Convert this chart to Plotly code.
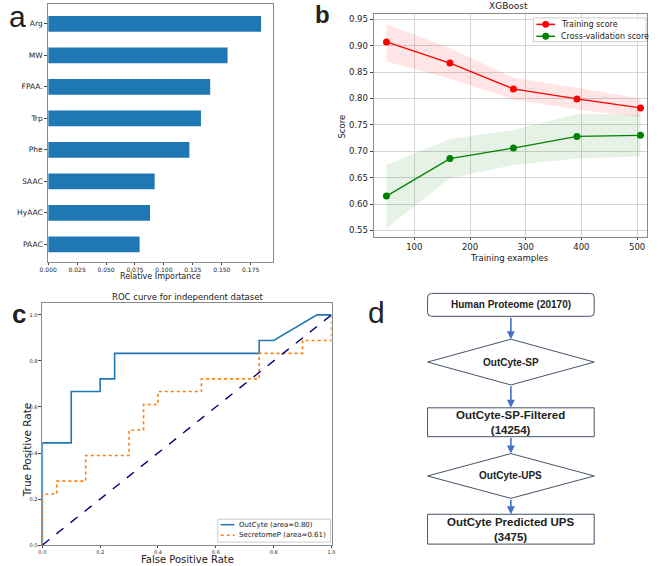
import plotly.graph_objects as go

W, H = 658, 566

# panel a: feature importance
features = ["Arg", "MW", "FPAA.", "Trp", "Phe", "SAAC", "HyAAC", "PAAC"]
importance = [0.184, 0.155, 0.140, 0.132, 0.122, 0.092, 0.088, 0.079]

# panel b: learning curve
train_sizes = [50, 164, 278, 392, 506]
train_mean = [0.907, 0.867, 0.818, 0.799, 0.782]
train_upper = [0.941, 0.895, 0.839, 0.820, 0.800]
train_lower = [0.870, 0.837, 0.798, 0.779, 0.765]
cv_mean = [0.615, 0.686, 0.706, 0.728, 0.730]
cv_upper = [0.674, 0.723, 0.740, 0.770, 0.770]
cv_lower = [0.554, 0.649, 0.674, 0.686, 0.690]

# panel c: ROC curves
outcyte_fpr = [0.0, 0.0, 0.1, 0.1, 0.2, 0.2, 0.25, 0.25, 0.75, 0.75, 0.8, 0.95, 1.0]
outcyte_tpr = [0.0, 0.444, 0.444, 0.667, 0.667, 0.722, 0.722, 0.833, 0.833, 0.889, 0.889, 1.0, 1.0]
secp_fpr = [0.0, 0.0, 0.05, 0.05, 0.15, 0.15, 0.3, 0.3, 0.35, 0.35, 0.4, 0.4, 0.55, 0.55,
            0.75, 0.75, 0.9, 0.9, 1.0, 1.0]
secp_tpr = [0.0, 0.222, 0.222, 0.278, 0.278, 0.389, 0.389, 0.5, 0.5, 0.611, 0.611, 0.667,
            0.667, 0.722, 0.722, 0.833, 0.833, 0.889, 0.889, 1.0]
roc_ticks = [0.0, 0.2, 0.4, 0.6, 0.8, 1.0]

# panel d: flowchart
flow_labels = ["Human Proteome (20170)", "OutCyte-SP", "OutCyte-SP-Filtered<br>(14254)",
               "OutCyte-UPS", "OutCyte Predicted UPS<br>(3475)"]
flow_kinds = ["round", "diamond", "box", "diamond", "box"]
flow_tops = [295, 341, 410, 456, 517]
flow_bottoms = [318, 387, 439, 501, 547]
flow_fonts = [10, 10, 11.5, 10, 11.5]

MPL = "DejaVu Sans"
frame = "#8a8a8a"


def px(x):
    return x / W


def py(y):
    return 1 - y / H


def label(x, y, text, size, family=MPL, angle=0, xanchor="center"):
    return dict(x=px(x), y=py(y), xref="paper", yref="paper", text=text, showarrow=False,
                xanchor=xanchor, yanchor="middle", textangle=angle,
                font=dict(family=family, size=size, color="#222"))


fig = go.Figure()

# ---- a
fig.add_trace(go.Bar(x=importance, y=features, orientation="h", width=0.5,
                     marker=dict(color="#1f77b4", line=dict(width=0)),
                     xaxis="x", yaxis="y", showlegend=False))

# ---- b
fig.add_trace(go.Scatter(x=train_sizes + train_sizes[::-1], y=train_upper + train_lower[::-1],
                         mode="none", fill="toself", fillcolor="rgba(255,0,0,0.1)",
                         xaxis="x2", yaxis="y2", showlegend=False, hoverinfo="skip"))
fig.add_trace(go.Scatter(x=train_sizes + train_sizes[::-1], y=cv_upper + cv_lower[::-1],
                         mode="none", fill="toself", fillcolor="rgba(0,128,0,0.1)",
                         xaxis="x2", yaxis="y2", showlegend=False, hoverinfo="skip"))
fig.add_trace(go.Scatter(x=train_sizes, y=train_mean, mode="lines+markers", name="Training score",
                         line=dict(color="#ff0000", width=1.3), marker=dict(size=7, color="#ff0000"),
                         xaxis="x2", yaxis="y2", showlegend=False))
fig.add_trace(go.Scatter(x=train_sizes, y=cv_mean, mode="lines+markers", name="Cross-validation score",
                         line=dict(color="#008000", width=1.3), marker=dict(size=7, color="#008000"),
                         xaxis="x2", yaxis="y2", showlegend=False))

# ---- c
fig.add_trace(go.Scatter(x=outcyte_fpr, y=outcyte_tpr, mode="lines", name="OutCyte (area=0.80)",
                         line=dict(color="#1f77b4", width=1.6),
                         xaxis="x3", yaxis="y3", showlegend=False))
fig.add_trace(go.Scatter(x=secp_fpr, y=secp_tpr, mode="lines", name="SecretomeP (area=0.61)",
                         line=dict(color="#ff7f0e", width=1.6, dash="dot"),
                         xaxis="x3", yaxis="y3", showlegend=False))
fig.add_trace(go.Scatter(x=[0, 1], y=[0, 1], mode="lines", line=dict(color="#000080", width=1.4, dash="dash"),
                         xaxis="x3", yaxis="y3", showlegend=False))

shapes = []
annos = []


# ---- hand-drawn legends (compact, matplotlib-like)
def legend_box(x0, y0, x1, y1):
    shapes.append(dict(type="rect", xref="paper", yref="paper", x0=px(x0), x1=px(x1),
                       y0=py(y1), y1=py(y0), line=dict(color="#cccccc", width=1),
                       fillcolor="rgba(255,255,255,0.9)", layer="above"))


def legend_key(x0, x1, y, color, dash="solid", marker=False):
    shapes.append(dict(type="line", xref="paper", yref="paper", x0=px(x0), x1=px(x1),
                       y0=py(y), y1=py(y), line=dict(color=color, width=1.5, dash=dash), layer="above"))
    if marker:
        m = (x0 + x1) / 2
        shapes.append(dict(type="circle", xref="paper", yref="paper", x0=px(m - 3.5), x1=px(m + 3.5),
                           y0=py(y + 3.5), y1=py(y - 3.5), line=dict(color=color, width=0),
                           fillcolor=color, layer="above"))


legend_box(535, 18, 650, 42)
legend_key(538, 557, 24.5, "#ff0000", marker=True)
legend_key(538, 557, 36.5, "#008000", marker=True)
annos.append(label(561, 24.5, "Training score", 8, xanchor="left"))
annos.append(label(561, 36.5, "Cross-validation score", 8, xanchor="left"))

legend_box(213, 522, 328, 545)
legend_key(216, 230, 527.5, "#1f77b4")
legend_key(216, 230, 538, "#ff7f0e", dash="dot")
annos.append(label(233, 527.5, "OutCyte (area=0.80)", 7, xanchor="left"))
annos.append(label(233, 538, "SecretomeP (area=0.61)", 7, xanchor="left"))

# ---- d (flowchart in paper coordinates)
cx_l, cx_r = 427, 597
cx = (cx_l + cx_r) / 2
for i, (lab, kind, t, b, fs) in enumerate(zip(flow_labels, flow_kinds, flow_tops, flow_bottoms, flow_fonts)):
    cy = (t + b) / 2
    L, R, C = px(cx_l), px(cx_r), px(cx)
    T, B, M = py(t), py(b), py(cy)
    if kind == "diamond":
        path = f"M {L},{M} L {C},{T} L {R},{M} L {C},{B} Z"
        shapes.append(dict(type="path", path=path, xref="paper", yref="paper",
                           line=dict(color="#44546A", width=1), fillcolor="white"))
    elif kind == "round":
        rx, ry = 4 / W, 4 / H
        path = (f"M {L + rx},{T} L {R - rx},{T} Q {R},{T} {R},{T - ry} "
                f"L {R},{B + ry} Q {R},{B} {R - rx},{B} L {L + rx},{B} "
                f"Q {L},{B} {L},{B + ry} L {L},{T - ry} Q {L},{T} {L + rx},{T} Z")
        shapes.append(dict(type="path", path=path, xref="paper", yref="paper",
                           line=dict(color="#44546A", width=1), fillcolor="white"))
    else:
        shapes.append(dict(type="rect", x0=L, x1=R, y0=B, y1=T, xref="paper", yref="paper",
                           line=dict(color="#44546A", width=1), fillcolor="white"))
    annos.append(label(cx, cy, f"<b>{lab}</b>", fs, family="Liberation Sans"))
    if i > 0:
        annos.append(dict(x=C, y=T, xref="paper", yref="paper", ax=0, ay=-(t - flow_bottoms[i - 1]),
                          text="", showarrow=True, arrowhead=2, arrowsize=1, arrowwidth=1.6,
                          arrowcolor="#4472C4"))

# titles, axis titles and panel letters
annos += [
    label(510, 6, "XGBoost", 9),
    label(182, 299, "ROC curve for independent dataset", 8.5),
    label(155, 277.5, "Relative Importance", 8),
    label(511, 259, "Training examples", 8.5),
    label(340, 127, "Score", 8.5, angle=-90),
    label(182, 562, "False Positive Rate", 10),
    label(18, 452, "True Positive Rate", 10.5, angle=-90),
    label(9, 17, "a", 30, family="Liberation Sans"),
    label(320, 15, "<b>b</b>", 24, family="Liberation Sans"),
    label(10, 316, "<b>c</b>", 26, family="Liberation Sans"),
    label(375, 314, "d", 30, family="Liberation Sans"),
]

axis_common = dict(showline=True, mirror=True, linecolor=frame, linewidth=1, ticks="outside",
                   ticklen=3, tickcolor="#444", zeroline=False)

fig.update_layout(
    width=W, height=H, margin=dict(l=0, r=0, t=0, b=0),
    paper_bgcolor="white", plot_bgcolor="white",
    font=dict(family=MPL, color="#222"),
    shapes=shapes, annotations=annos, showlegend=False,
    xaxis=dict(domain=[px(40), px(269)], range=[0, 0.194], anchor="y",
               tickvals=[0, 0.025, 0.05, 0.075, 0.1, 0.125, 0.15, 0.175],
               ticktext=["0.000", "0.025", "0.050", "0.075", "0.100", "0.125", "0.150", "0.175"],
               tickfont=dict(size=6), showgrid=False, **axis_common),
    yaxis=dict(domain=[py(263), py(4)], anchor="x", type="category", categoryarray=features,
               range=[7.55, -0.63], tickfont=dict(size=7.5), showgrid=False, **axis_common),
    xaxis2=dict(domain=[px(372), px(651)], range=[27, 518], anchor="y2",
                tickvals=[100, 200, 300, 400, 500], tickfont=dict(size=8.5),
                showgrid=True, gridcolor="#d5d5d5", **axis_common),
    yaxis2=dict(domain=[py(238), py(14)], range=[0.538, 0.96], anchor="x2",
                tickvals=[0.55, 0.6, 0.65, 0.7, 0.75, 0.8, 0.85, 0.9, 0.95],
                ticktext=["0.55", "0.60", "0.65", "0.70", "0.75", "0.80", "0.85", "0.90", "0.95"],
                tickfont=dict(size=8.5), showgrid=True, gridcolor="#d5d5d5", **axis_common),
    xaxis3=dict(domain=[px(34), px(329)], range=[0, 1], anchor="y3",
                tickvals=roc_ticks, ticktext=[f"{v:.1f}" for v in roc_ticks], tickfont=dict(size=5),
                showgrid=False, **axis_common),
    yaxis3=dict(domain=[py(548), py(305)], range=[0, 1.05], anchor="x3",
                tickvals=roc_ticks, ticktext=[f"{v:.1f}" for v in roc_ticks], tickfont=dict(size=5),
                showgrid=False, **axis_common),
)
fig.update_xaxes(ticklen=2)

# the page's default 8px body margin would push the figure off the window
fig.write_html("out.html", config={"displayModeBar": False},
               post_script="document.body.style.margin='0px';")
